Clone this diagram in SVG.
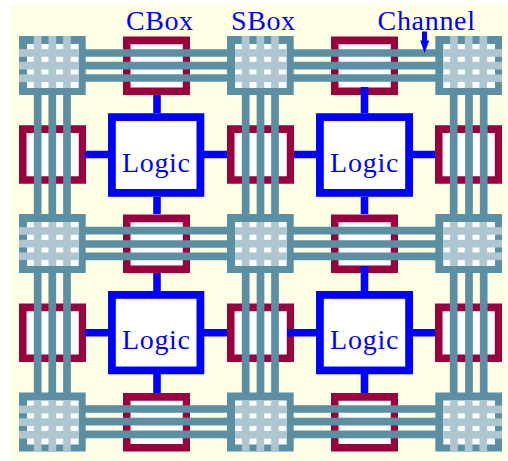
<svg xmlns="http://www.w3.org/2000/svg" width="508" height="461" viewBox="0 0 508 461">
<style>
.cb{fill:#99003d;fill-rule:evenodd}
.sb{fill:#5b8fa3;fill-rule:evenodd}
.hole{fill:#fff}
.bar{fill:#aec6d0}
.lg{fill:#fff;stroke:#00f;stroke-width:7.8}
.wire{stroke:#00f;stroke-width:7.6;fill:none}
.ch{stroke:#5b8fa3;stroke-width:7.7;fill:none}
text{font-family:"Liberation Serif","Times New Roman",serif;font-size:28px;fill:#00f}
</style>
<defs>
<g id="cbox"><rect class="hole" x="6" y="6" width="55" height="47"/><path class="cb" d="M0 0H67V58.5H0ZM7.5 7.7V51H59.8V7.7Z"/></g>
<g id="sbox"><rect class="hole" x="6" y="6" width="55" height="48"/><path class="sb" d="M0 0H66.7V59H0ZM8 8V52H59.7V8Z"/>
<g class="bar"><rect x="14.8" y="8" width="7.7" height="44"/><rect x="29.5" y="8" width="7.7" height="44"/><rect x="44.1" y="8" width="7.7" height="44"/><rect x="8" y="13.1" width="51.7" height="7.7"/><rect x="8" y="25.8" width="51.7" height="7.7"/><rect x="8" y="38.4" width="51.7" height="7.7"/></g></g>
<g id="xt" class="bar"><rect x="14.8" y="0" width="7.7" height="8"/><rect x="29.5" y="0" width="7.7" height="8"/><rect x="44.1" y="0" width="7.7" height="8"/></g>
<g id="xb" class="bar"><rect x="14.8" y="52" width="7.7" height="7"/><rect x="29.5" y="52" width="7.7" height="7"/><rect x="44.1" y="52" width="7.7" height="7"/></g>
<g id="xl" class="bar"><rect x="0" y="13.1" width="8" height="7.7"/><rect x="0" y="25.8" width="8" height="7.7"/><rect x="0" y="38.4" width="8" height="7.7"/></g>
<g id="xr" class="bar"><rect x="59.7" y="13.1" width="7" height="7.7"/><rect x="59.7" y="25.8" width="7" height="7.7"/><rect x="59.7" y="38.4" width="7" height="7.7"/></g>
</defs>
<rect x="10" y="4" width="498" height="457" fill="#ffffe6"/>
<g id="cbox-t1"><use href="#cbox" x="123" y="36.5"/></g>
<g id="cbox-t2"><use href="#cbox" x="331" y="36.5"/></g>
<g id="cbox-m1"><use href="#cbox" x="123" y="214.5"/></g>
<g id="cbox-m2"><use href="#cbox" x="331" y="214.5"/></g>
<g id="cbox-b1"><use href="#cbox" x="123" y="393"/></g>
<g id="cbox-b2"><use href="#cbox" x="331" y="393"/></g>
<g id="cbox-l1"><use href="#cbox" x="19" y="125.3"/></g>
<g id="cbox-l2"><use href="#cbox" x="227" y="125.3"/></g>
<g id="cbox-l3"><use href="#cbox" x="435" y="125.3"/></g>
<g id="cbox-l4"><use href="#cbox" x="19" y="303.5"/></g>
<g id="cbox-l5"><use href="#cbox" x="227" y="303.5"/></g>
<g id="cbox-l6"><use href="#cbox" x="435" y="303.5"/></g>
<g id="logic-1"><rect class="lg" x="111.9" y="117.1" width="88.5" height="75.8"/></g>
<g id="logic-2"><rect class="lg" x="319.9" y="117.1" width="89.2" height="75.8"/></g>
<g id="logic-3"><rect class="lg" x="111.9" y="294.9" width="88.5" height="75.5"/></g>
<g id="logic-4"><rect class="lg" x="319.9" y="294.9" width="89.2" height="75.5"/></g>
<g id="connectors">
<path class="wire" d="M157 95V113M157 197V214M157 273V291M157 374V393M364.5 87V113M364.5 197V214M364.5 266V291M364.5 374V393M85 154.5H108M204 154.5H227M294 154.5H316M413 154.5H435M85 332.7H108M204 332.7H227M287 332.7H316M413 332.7H435"/>
<path class="ch" d="M80 53H440M80 65.7H440M80 78H440M80 230.7H440M80 244H440M80 256.3H440M80 409H440M80 421.7H440M80 434.3H440"/>
<path class="ch" d="M37.7 90V398M52.3 90V398M67 90V398M245.7 90V398M260.5 90V398M275 90V398M453.7 90V398M469 90V398M483.7 90V398"/>
<polygon points="422,31.5 427,31.5 427,40.5 429.2,40.5 424.6,53 420.2,40.5 422,40.5" fill="#00f"/>
</g>
<g id="sbox-1"><use href="#sbox" x="19" y="36"/><use href="#xt" x="19" y="36"/><use href="#xl" x="19" y="36"/></g>
<g id="sbox-2"><use href="#sbox" x="227" y="36"/><use href="#xt" x="227" y="36"/></g>
<g id="sbox-3"><use href="#sbox" x="435.3" y="36"/><use href="#xt" x="435.3" y="36"/><use href="#xr" x="435.3" y="36"/></g>
<g id="sbox-4"><use href="#sbox" x="19" y="214"/><use href="#xl" x="19" y="214"/></g>
<g id="sbox-5"><use href="#sbox" x="227" y="214"/></g>
<g id="sbox-6"><use href="#sbox" x="435.3" y="214"/><use href="#xr" x="435.3" y="214"/></g>
<g id="sbox-7"><use href="#sbox" x="19" y="392.5"/><use href="#xb" x="19" y="392.5"/><use href="#xl" x="19" y="392.5"/></g>
<g id="sbox-8"><use href="#sbox" x="227" y="392.5"/><use href="#xb" x="227" y="392.5"/></g>
<g id="sbox-9"><use href="#sbox" x="435.3" y="392.5"/><use href="#xb" x="435.3" y="392.5"/><use href="#xr" x="435.3" y="392.5"/></g>
<text x="122" y="171.5" textLength="68">Logic</text>
<text x="330" y="171.5" textLength="68.5">Logic</text>
<text x="122" y="349.3" textLength="68">Logic</text>
<text x="330" y="349.3" textLength="68.5">Logic</text>
<text x="126" y="30" textLength="67">CBox</text>
<text x="231" y="30" textLength="64">SBox</text>
<text x="377.5" y="30" textLength="97.5">Channel</text>
</svg>
